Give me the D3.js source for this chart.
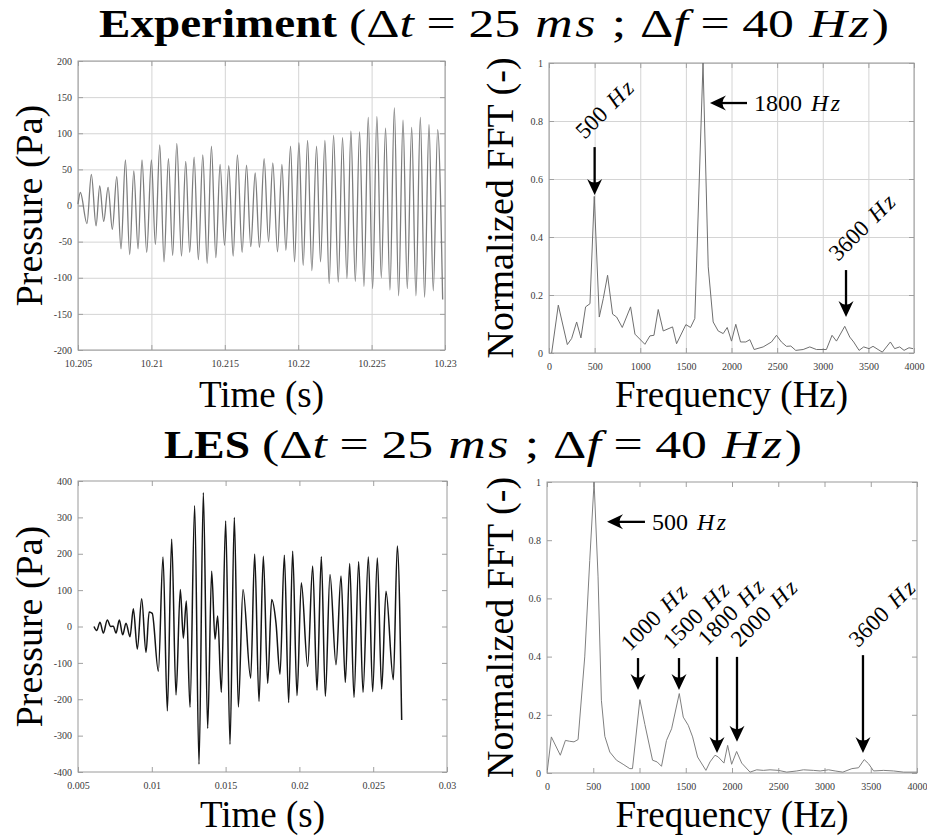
<!DOCTYPE html>
<html>
<head>
<meta charset="utf-8">
<script src="https://cdn.jsdelivr.net/npm/d3@7"></script>
<style>
  html, body { margin: 0; padding: 0; background: #fff; }
  svg { display: block; }
</style>
</head>
<body>
<script>
// ---------- Measured pressure signal (experiment): turning points ----------
const expTime = [10.20500, 10.20516, 10.20561, 10.20591, 10.20623, 10.20648, 10.20675, 10.20705, 10.20734, 10.20764,
  10.20793, 10.20823, 10.20852, 10.20880, 10.20909, 10.20936, 10.20968, 10.21000, 10.21027, 10.21057,
  10.21086, 10.21116, 10.21145, 10.21173, 10.21205, 10.21234, 10.21261, 10.21291, 10.21320, 10.21350,
  10.21380, 10.21409, 10.21439, 10.21468, 10.21498, 10.21527, 10.21557, 10.21586, 10.21618, 10.21648,
  10.21677, 10.21707, 10.21736, 10.21768, 10.21798, 10.21827, 10.21859, 10.21889, 10.21916, 10.21948,
  10.21975, 10.22005, 10.22034, 10.22064, 10.22093, 10.22125, 10.22152, 10.22182, 10.22211, 10.22241,
  10.22273, 10.22302, 10.22332, 10.22359, 10.22389, 10.22418, 10.22448, 10.22477, 10.22507, 10.22536,
  10.22566, 10.22595, 10.22625, 10.22655, 10.22684, 10.22714, 10.22743, 10.22773, 10.22802, 10.22832,
  10.22861, 10.22891, 10.22920, 10.22950, 10.22984];
const expPressure = [2, 18, -25, 43, -28, 27, -22, 25, -33, 40,
  -60, 63, -68, 48, -60, 63, -65, 63, -54, 84,
  -78, 65, -69, 86, -70, 61, -65, 67, -75, 70,
  -80, 82, -72, 57, -55, 55, -70, 70, -65, 56,
  -57, 45, -58, 65, -50, 59, -64, 57, -62, 82,
  -78, 87, -83, 90, -90, 82, -78, 90, -108, 97,
  -106, 94, -101, 103, -105, 102, -112, 122, -115, 123,
  -100, 107, -117, 135, -125, 118, -115, 108, -125, 122,
  -127, 112, -118, 105, -130];

// ---------- Simulated pressure signal (LES): turning points ----------
const lesTime = [0.006084, 0.006265, 0.006491, 0.006716, 0.006987, 0.007213, 0.007394, 0.007575, 0.0078, 0.008026,
  0.008252, 0.008523, 0.008749, 0.00902, 0.009314, 0.009607, 0.00982, 0.01003, 0.010443, 0.010759,
  0.011053, 0.011346, 0.01164, 0.011933, 0.012137, 0.01234, 0.012588, 0.012904, 0.013198, 0.013492,
  0.013785, 0.014056, 0.014282, 0.014463, 0.014711, 0.015005, 0.015298, 0.015592, 0.015863, 0.016179,
  0.016699, 0.01697, 0.017263, 0.017557, 0.01785, 0.018121, 0.018415, 0.018686, 0.01898, 0.019273,
  0.019544, 0.019838, 0.020131, 0.02056, 0.020899, 0.021193, 0.021486, 0.021757, 0.022073, 0.02248,
  0.022819, 0.023112, 0.023406, 0.023699, 0.024016, 0.024309, 0.024671, 0.024964, 0.02528, 0.025574,
  0.025867, 0.026364, 0.026635, 0.026929];
const lesPressure = [0, -11, 12, -18, 18, 0, 1, -18, 18, -23,
  9, -28, 49, -62, 76, -71, 40, 36, -123, 191,
  -232, 240, -188, 102, -32, 70, -222, 332, -379, 368,
  -280, 152, -35, 29, -181, 290, -324, 300, -221, 102,
  -142, 199, -206, 193, -156, 74, 9, -131, 196, -209,
  207, -190, 120, -110, 166, -175, 192, -192, 143, -105,
  139, -154, 173, -195, 178, -181, 191, -179, 188, -172,
  97, -146, 221, -257];

// ---------- Normalized spectra ----------
const expFreq = [29, 102, 201, 248, 303, 350, 401, 449, 496, 551, 595, 642, 697, 741, 803, 894, 942, 1051, 1106, 1150,
  1197, 1252, 1354, 1398, 1500, 1551, 1598, 1688, 1745, 1799, 1854, 1909, 1953, 2000, 2047, 2099, 2157, 2201, 2248, 2347,
  2438, 2493, 2547, 2602, 2650, 2704, 2785, 2858, 2931, 3040, 3102, 3150, 3241, 3296, 3339, 3398, 3449, 3507, 3551, 3606,
  3653, 3741, 3788, 3843, 3891, 3945, 3989];
const expFFT = [0, 0.165, 0.029, 0.05, 0.107, 0.052, 0.159, 0.17, 0.54, 0.124, 0.188, 0.268, 0.134, 0.124, 0.088, 0.159, 0.065, 0.03, 0.059, 0.061,
  0.15, 0.076, 0.09, 0.032, 0.098, 0.088, 0.119, 1.0, 0.297, 0.107, 0.076, 0.067, 0.088, 0.041, 0.099, 0.038, 0.038, 0.046, 0.012, 0.021,
  0.038, 0.061, 0.038, 0.023, 0.024, 0.009, 0.012, 0.021, 0.012, 0.012, 0.061, 0.041, 0.092, 0.055, 0.038, 0.009, 0.021, 0.015, 0.023, 0.012,
  0.003, 0.038, 0.015, 0.021, 0.009, 0.018, 0.015];

const lesFreq = [4, 47, 144, 199, 245, 292, 336, 408, 462, 509, 552, 588, 625, 679, 751, 823, 895, 924, 1004, 1058,
  1141, 1191, 1238, 1292, 1347, 1430, 1473, 1527, 1574, 1628, 1718, 1762, 1816, 1852, 1913, 1953, 1996, 2050, 2105, 2195,
  2267, 2339, 2411, 2502, 2592, 2700, 2772, 2881, 2953, 3043, 3115, 3198, 3296, 3368, 3429, 3476, 3531, 3639, 3747, 3856, 4000];
const lesFFT = [0.01, 0.124, 0.061, 0.112, 0.109, 0.107, 0.115, 0.399, 0.73, 1.0, 0.674, 0.25, 0.126, 0.072, 0.044, 0.03, 0.015, 0.015, 0.252, 0.167,
  0.044, 0.038, 0.023, 0.112, 0.152, 0.273, 0.192, 0.164, 0.124, 0.055, 0.009, 0.038, 0.061, 0.055, 0.034, 0.095, 0.03, 0.074, 0.034, 0.003,
  0.011, 0.009, 0.011, 0.009, 0.003, 0.007, 0.011, 0.009, 0.007, 0.011, 0.007, 0.003, 0.015, 0.018, 0.046, 0.032, 0.007, 0.009, 0.007, 0.003, 0.003];

// ---------- Tick values ----------
const expTimeTicks = [10.205, 10.21, 10.215, 10.22, 10.225, 10.23];
const expPressureTicks = [-200, -150, -100, -50, 0, 50, 100, 150, 200];
const lesTimeTicks = [0.005, 0.01, 0.015, 0.02, 0.025, 0.03];
const lesPressureTicks = [-400, -300, -200, -100, 0, 100, 200, 300, 400];
const freqTicks = [0, 500, 1000, 1500, 2000, 2500, 3000, 3500, 4000];
const fftTicks = [0, 0.2, 0.4, 0.6, 0.8, 1];

// ---------- Peak annotations (frequency, arrow tail level, arrow tip level) ----------
const expPeakLabels = ["500", "3600"];
const expPeakFreq = [500, 3255];
const expPeakFrom = [0.71, 0.286];
const expPeakTo = [0.545, 0.124];
const expSideLabel = "1800";
const expSideFrom = 2170, expSideTo = 1764, expSideLevel = 0.862;

const lesPeakLabels = ["1000", "1500", "1800", "2000", "3600"];
const lesPeakFreq = [984, 1427, 1838, 2054, 3416];
const lesPeakFrom = [0.395, 0.395, 0.399, 0.399, 0.405];
const lesPeakTo = [0.285, 0.285, 0.069, 0.107, 0.069];
const lesSideLabel = "500";
const lesSideFrom = 1059, lesSideTo = 649, lesSideLevel = 0.863;

// ---------- Drawing ----------
const SERIF = "'Liberation Serif', 'Times New Roman', serif";
const svg = d3.select("body").append("svg")
  .attr("width", 927).attr("height", 839)
  .attr("font-family", SERIF);

function panel(o) {
  const g = svg.append("g");
  const x = d3.scaleLinear().domain(o.xDomain).range([o.left, o.right]);
  const y = d3.scaleLinear().domain(o.yDomain).range([o.bottom, o.top]);
  const h = o.bottom - o.top, w = o.right - o.left;

  if (o.grid) {
    g.append("g").attr("transform", `translate(0,${o.bottom})`)
      .call(d3.axisBottom(x).tickValues(o.xTicks).tickSize(-h).tickFormat(""))
      .call(s => s.select(".domain").remove())
      .call(s => s.selectAll("line").attr("stroke", "#d4d4d4"));
    g.append("g").attr("transform", `translate(${o.left},0)`)
      .call(d3.axisLeft(y).tickValues(o.yTicks).tickSize(-w).tickFormat(""))
      .call(s => s.select(".domain").remove())
      .call(s => s.selectAll("line").attr("stroke", "#d4d4d4"));
  }

  // inward ticks on all four sides, labels on bottom and left
  const styleAxis = s => {
    s.select(".domain").remove();
    s.selectAll("line").attr("stroke", "#a0a0a0");
    s.selectAll("text").attr("font-family", SERIF).attr("font-size", 10).attr("fill", "#3a3a3a");
  };
  g.append("g").attr("transform", `translate(0,${o.bottom})`)
    .call(d3.axisBottom(x).tickValues(o.xTicks).tickSizeInner(-5).tickSizeOuter(0).tickPadding(10).tickFormat(d => String(d)))
    .call(styleAxis);
  g.append("g").attr("transform", `translate(0,${o.top})`)
    .call(d3.axisTop(x).tickValues(o.xTicks).tickSizeInner(-5).tickSizeOuter(0).tickFormat(""))
    .call(styleAxis);
  g.append("g").attr("transform", `translate(${o.left},0)`)
    .call(d3.axisLeft(y).tickValues(o.yTicks).tickSizeInner(-5).tickSizeOuter(0).tickPadding(6).tickFormat(d => String(d)))
    .call(styleAxis);
  g.append("g").attr("transform", `translate(${o.right},0)`)
    .call(d3.axisRight(y).tickValues(o.yTicks).tickSizeInner(-5).tickSizeOuter(0).tickFormat(""))
    .call(styleAxis);

  g.append("rect")
    .attr("x", o.left).attr("y", o.top).attr("width", w).attr("height", h)
    .attr("fill", "none").attr("stroke", "#9a9a9a").attr("stroke-width", 1);

  const pts = o.xs.map((v, i) => [v, o.ys[i]]);
  const line = d3.line().x(d => x(d[0])).y(d => y(d[1])).curve(o.curve);
  g.append("path").datum(pts)
    .attr("d", line)
    .attr("fill", "none")
    .attr("stroke", o.color)
    .attr("stroke-width", o.width)
    .attr("stroke-linejoin", "round");

  // axis titles
  g.append("text")
    .attr("x", (o.left + o.right) / 2).attr("y", o.xLabelY)
    .attr("text-anchor", "middle").attr("font-size", 37).attr("fill", "#000")
    .text(o.xLabel);
  g.append("text")
    .attr("transform", `translate(${o.yLabelX},${(o.top + o.bottom) / 2}) rotate(-90)`)
    .attr("text-anchor", "middle").attr("font-size", 38).attr("fill", "#000")
    .text(o.yLabel);

  return { g, x, y };
}

function arrow(g, x1, y1, x2, y2) {
  const a = Math.atan2(y2 - y1, x2 - x1);
  const L = 16, W = 7.5;
  g.append("line")
    .attr("x1", x1).attr("y1", y1)
    .attr("x2", x2 - Math.cos(a) * 9).attr("y2", y2 - Math.sin(a) * 9)
    .attr("stroke", "#000").attr("stroke-width", 2.3);
  g.append("path")
    .attr("d", `M0,0 L${-L},${-W} Q${-L * 0.55},0 ${-L},${W} Z`)
    .attr("transform", `translate(${x2},${y2}) rotate(${a * 180 / Math.PI})`)
    .attr("fill", "#000");
}

function hzLabel(sel, num) {
  sel.append("tspan").text(num);
  sel.append("tspan").attr("dx", 9).attr("font-style", "italic").attr("letter-spacing", 2.5).text("Hz");
}

function annotate(p, labels, freqs, from, to, nudge, side) {
  labels.forEach((lab, i) => {
    const px = p.x(freqs[i]);
    const y1 = p.y(from[i]), y2 = p.y(to[i]);
    arrow(p.g, px, y1, px, y2);
    const [dx, dy] = nudge[i];
    const t = p.g.append("text")
      .attr("transform", `translate(${px + dx},${y1 + dy}) rotate(-45)`)
      .attr("font-size", 23).attr("fill", "#000");
    hzLabel(t, lab);
  });
  const xs = p.x(side.from), xe = p.x(side.to), ys = p.y(side.level);
  arrow(p.g, xs, ys, xe, ys);
  const t = p.g.append("text")
    .attr("x", xs + 7).attr("y", ys + 8)
    .attr("font-size", 24).attr("fill", "#000");
  hzLabel(t, side.label);
}

// Bold lead word followed by the math part, each fitted to its own width
function title(lead, startX, leadWidth, y) {
  const fs = 41, mathWidth = 540, gap = 12;
  svg.append("text")
    .attr("x", startX).attr("y", y)
    .attr("font-size", fs).attr("font-weight", "bold").attr("fill", "#000")
    .attr("textLength", leadWidth).attr("lengthAdjust", "spacingAndGlyphs")
    .text(lead);
  const t = svg.append("text")
    .attr("x", startX + leadWidth + gap).attr("y", y)
    .attr("font-size", fs).attr("fill", "#000")
    .attr("textLength", mathWidth).attr("lengthAdjust", "spacingAndGlyphs");
  const parts = [
    ["(", false, 0], ["\u0394", false, 0], ["t", true, 0],
    ["=", false, 10], ["25", false, 10], ["ms", true, 12],
    [";", false, 11], ["\u0394", false, 11], ["f", true, 0],
    ["=", false, 10], ["40", false, 10], ["Hz", true, 12], [")", false, 0]
  ];
  parts.forEach(([s, it, dx]) => {
    const sp = t.append("tspan").attr("dx", dx).text(s);
    if (it) sp.attr("font-style", "italic").attr("letter-spacing", s.length > 1 ? 2 : 0);
  });
}

title("Experiment", 99, 238, 37);
title("LES", 164, 86, 458);

panel({
  left: 78, right: 445, top: 61, bottom: 350, grid: true,
  xDomain: [10.205, 10.23], yDomain: [-200, 200],
  xTicks: expTimeTicks, yTicks: expPressureTicks,
  xs: expTime, ys: expPressure, curve: d3.curveMonotoneX,
  color: "#7d7d7d", width: 1.3,
  xLabel: "Time (s)", xLabelY: 407, yLabel: "Pressure (Pa)", yLabelX: 42
});

const expSpec = panel({
  left: 549, right: 914, top: 63, bottom: 353, grid: true,
  xDomain: [0, 4000], yDomain: [0, 1],
  xTicks: freqTicks, yTicks: fftTicks,
  xs: expFreq, ys: expFFT, curve: d3.curveLinear,
  color: "#6f6f6f", width: 1,
  xLabel: "Frequency (Hz)", xLabelY: 407, yLabel: "Normalized FFT (-)", yLabelX: 513
});
annotate(expSpec, expPeakLabels, expPeakFreq, expPeakFrom, expPeakTo,
  [[-10, -7], [-8, -8]],
  { label: expSideLabel, from: expSideFrom, to: expSideTo, level: expSideLevel });

panel({
  left: 78, right: 447, top: 481, bottom: 772, grid: false,
  xDomain: [0.005, 0.03], yDomain: [-400, 400],
  xTicks: lesTimeTicks, yTicks: lesPressureTicks,
  xs: lesTime, ys: lesPressure, curve: d3.curveMonotoneX,
  color: "#151515", width: 1.5,
  xLabel: "Time (s)", xLabelY: 827, yLabel: "Pressure (Pa)", yLabelX: 42
});

const lesSpec = panel({
  left: 547, right: 917, top: 482, bottom: 773, grid: false,
  xDomain: [0, 4000], yDomain: [0, 1],
  xTicks: freqTicks, yTicks: fftTicks,
  xs: lesFreq, ys: lesFFT, curve: d3.curveLinear,
  color: "#808080", width: 1,
  xLabel: "Frequency (Hz)", xLabelY: 827, yLabel: "Normalized FFT (-)", yLabelX: 513
});
annotate(lesSpec, lesPeakLabels, lesPeakFreq, lesPeakFrom, lesPeakTo,
  [[-8, -6], [-7, -8], [-10, -10], [3, -9], [-5, -7]],
  { label: lesSideLabel, from: lesSideFrom, to: lesSideTo, level: lesSideLevel });
</script>
</body>
</html>
